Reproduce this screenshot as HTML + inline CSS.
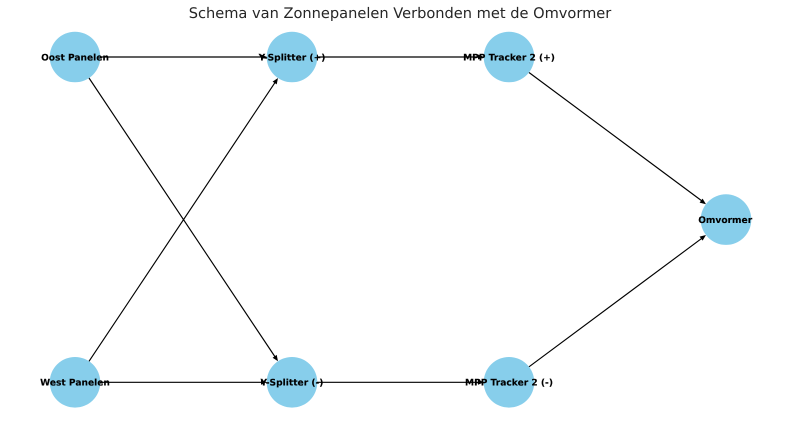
<!DOCTYPE html>
<html>
<head>
<meta charset="utf-8">
<style>
html,body{margin:0;padding:0;background:#fff;width:800px;height:423px;overflow:hidden}
svg{display:block}
.n{fill:#87ceeb}
.e{stroke:#000;stroke-width:1.15;fill:none}
.h{fill:#000}
text{font-family:"DejaVu Sans",sans-serif;text-rendering:geometricPrecision}
.l{font-size:9.1px;font-weight:bold;fill:#000;text-anchor:middle;stroke:#000;stroke-width:.12px}
</style>
</head>
<body>
<svg width="800" height="423" viewBox="0 0 800 423" xmlns="http://www.w3.org/2000/svg">
<text x="400" y="18" font-size="14.6" fill="#262626" text-anchor="middle">Schema van Zonnepanelen Verbonden met de Omvormer</text>
<circle class="n" cx="75" cy="57" r="25.3"/>
<circle class="n" cx="292" cy="57" r="25.3"/>
<circle class="n" cx="509" cy="57" r="25.3"/>
<circle class="n" cx="75" cy="382.3" r="25.3"/>
<circle class="n" cx="292" cy="382.3" r="25.3"/>
<circle class="n" cx="509" cy="382.3" r="25.3"/>
<circle class="n" cx="726" cy="219.6" r="25.3"/>
<line class="e" x1="100" y1="57" x2="262" y2="57"/>
<polygon class="h" points="267,57 261,54.5 261,59.5"/>
<line class="e" x1="317" y1="57" x2="479" y2="57"/>
<polygon class="h" points="484,57 478,54.5 478,59.5"/>
<line class="e" x1="100" y1="382.3" x2="262" y2="382.3"/>
<polygon class="h" points="267,382.3 261,379.8 261,384.8"/>
<line class="e" x1="317" y1="382.3" x2="479" y2="382.3"/>
<polygon class="h" points="484,382.3 478,379.8 478,384.8"/>
<line class="e" x1="89" y1="78" x2="275.5" y2="357.5"/>
<polygon class="h" points="278,361.3 276.7,354.9 272.6,357.7"/>
<line class="e" x1="89" y1="361.3" x2="275.5" y2="81.8"/>
<polygon class="h" points="278,78 272.6,81.6 276.7,84.4"/>
<line class="e" x1="529" y1="72.5" x2="702" y2="201"/>
<polygon class="h" points="706,204.2 702.6,198.6 699.6,202.6"/>
<line class="e" x1="529" y1="366.8" x2="702" y2="238.2"/>
<polygon class="h" points="706,235 699.6,236.6 702.6,240.6"/>
<text class="l" x="75" y="60.3">Oost Panelen</text>
<text class="l" x="292" y="60.3">Y-Splitter (+)</text>
<text class="l" x="509" y="60.3">MPP Tracker 2 (+)</text>
<text class="l" x="75" y="385.6">West Panelen</text>
<text class="l" x="292" y="385.6">Y-Splitter (-)</text>
<text class="l" x="509" y="385.6">MPP Tracker 2 (-)</text>
<text class="l" x="725.2" y="222.9">Omvormer</text>
</svg>
</body>
</html>
